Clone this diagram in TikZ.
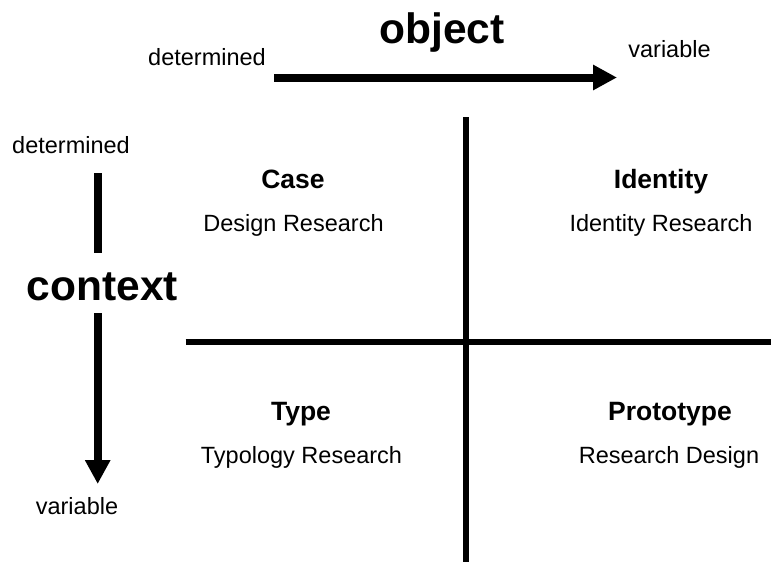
\documentclass[tikz,border=0pt]{standalone}
\usepackage{fontspec}
\setmainfont{Liberation Sans}
\usetikzlibrary{arrows.meta}

\begin{document}
\begin{tikzpicture}[x=1pt,y=-1pt]
\tikzstyle{small} = [inner sep=0pt, anchor=base, font=\fontsize{23.5}{28}\selectfont]
\tikzstyle{label} = [inner sep=0pt, anchor=base, font=\fontsize{26.5}{31}\selectfont\bfseries]
\tikzstyle{title} = [inner sep=0pt, anchor=base, font=\fontsize{42.5}{50}\selectfont\bfseries]
\tikzstyle{axis} = [line width=6.5pt]
\tikzstyle{arrow} = [line width=8pt,-{Triangle[length=24pt,width=24pt]}]

\useasboundingbox (0,0) rectangle (771,562);

% object axis
\node [title] (obj) at (442,43.5) {object};
\node [small] (objdet) at (207,65.7) {determined};
\node [small] (objvar) at (669.5,57.7) {variable};
\coordinate (objA) at (274,77.5);
\coordinate (objB) at (617,77.5);
\draw [arrow] (objA) -- (objB);

% context axis
\node [small] (ctxdet) at (71,153.3) {determined};
\node [title] (ctx) at (102.5,300) {context};
\node [small] (ctxvar) at (77,514) {variable};
\coordinate (ctxA) at (97.7,173);
\coordinate (ctxB) at (97.7,253);
\coordinate (ctxC) at (97.7,313);
\coordinate (ctxD) at (97.7,484);
\draw [line width=8pt] (ctxA) -- (ctxB);
\draw [arrow] (ctxC) -- (ctxD);

% quadrants
\coordinate (vtop) at (466,117);
\coordinate (vbot) at (466,562);
\coordinate (hleft) at (185.6,342);
\coordinate (hright) at (771,342);
\draw [axis] (vtop) -- (vbot);
\draw [axis] (hleft) -- (hright);

\node [label] (case) at (293,188) {Case};
\node [small] (caseres) at (293.5,231.5) {Design Research};
\node [label] (ident) at (661,188) {Identity};
\node [small] (identres) at (661,231.5) {Identity Research};
\node [label] (type) at (301,420) {Type};
\node [small] (typeres) at (301.5,463.5) {Typology Research};
\node [label] (proto) at (670,420) {Prototype};
\node [small] (protores) at (669,463.5) {Research Design};
\end{tikzpicture}
\end{document}
